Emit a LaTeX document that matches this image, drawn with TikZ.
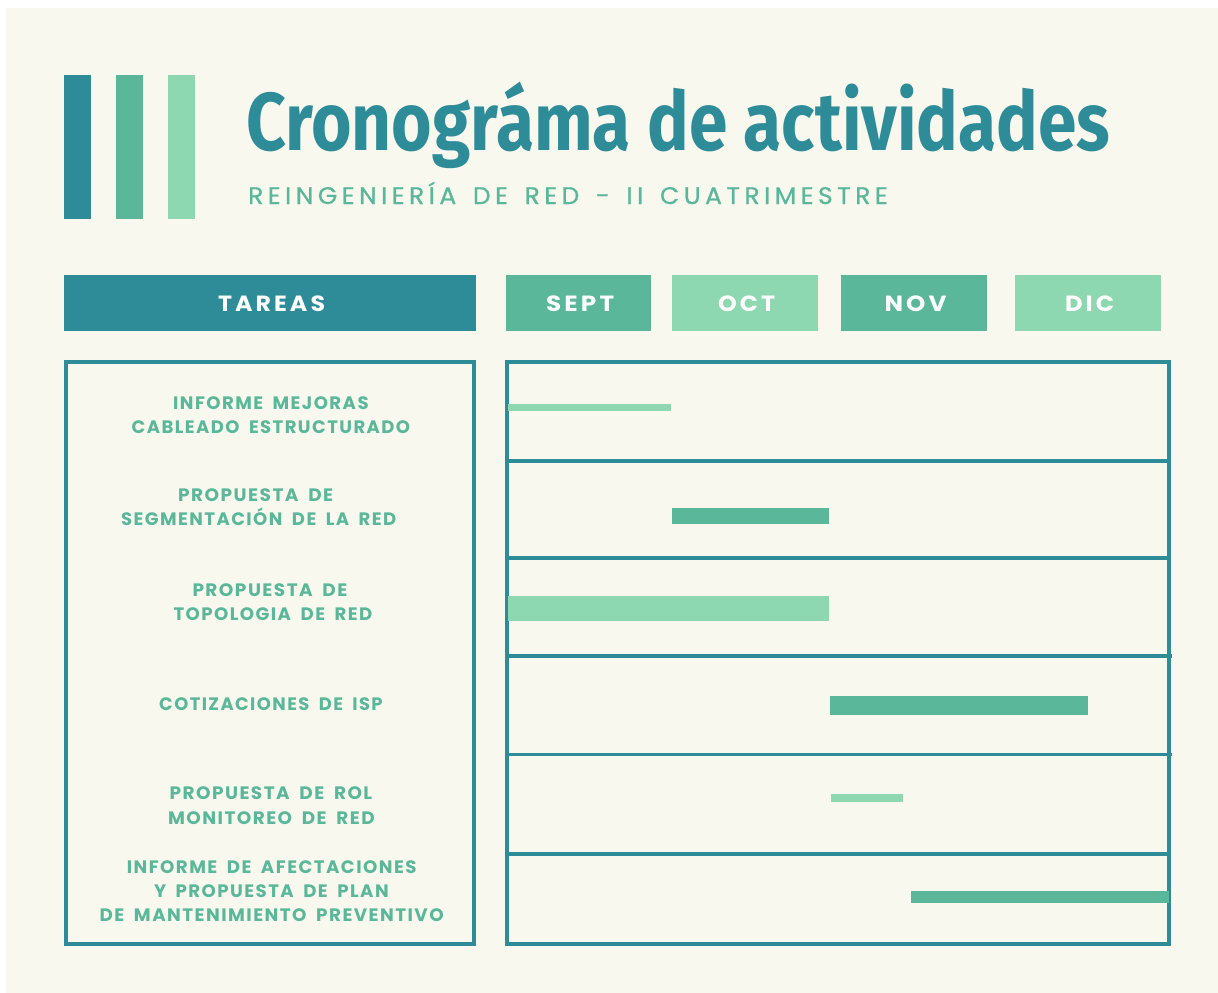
\documentclass[tikz,border=0pt]{standalone}
\usepackage{fontspec}
\usepackage{graphicx}
\setmainfont{Poppins}
\newfontfamily\titlefont{Fira Sans}
\newfontfamily\subfont[LetterSpace=18,WordSpace=1.5,FakeBold=0.8]{Poppins}
\newfontfamily\hdrfont[LetterSpace=13]{Poppins}
\newfontfamily\labfont[LetterSpace=8,WordSpace=1.8]{Poppins}
\definecolor{cteal}{HTML}{2E8C99}
\definecolor{cmid}{HTML}{5BB79A}
\definecolor{clight}{HTML}{8DD8B1}
\definecolor{cbg}{HTML}{F8F8EE}
\def\lsk{0em}
\newcommand\fitw[2]{\resizebox{#1pt}{\height}{#2\kern-\lsk}}
\begin{document}
\begin{tikzpicture}[x=1pt,y=-1pt,
  hdrbox/.style={rectangle, inner sep=0pt, minimum height=56pt, text=white,
    font=\hdrfont\bfseries\fontsize{22}{22}\selectfont\def\lsk{0.13em},
    text height=16pt, text depth=0pt},
  lab/.style={anchor=base west, inner sep=0pt, text=cmid,
    font=\labfont\bfseries\fontsize{18}{18}\selectfont\def\lsk{0.08em}},
  frame/.style={draw=cteal, line width=3.5pt},
  sep/.style={draw=cteal, line width=3.5pt},
  barL/.style={fill=clight},
  barM/.style={fill=cmid}]
% background
\fill[white] (0,0) rectangle (1218,993);
\fill[cbg] (6,8) rectangle (1218,993);
% decorative bars
\fill[cteal] (64,75) rectangle (91,219);
\fill[cmid] (116,75) rectangle (143,219);
\fill[clight] (168,75) rectangle (195,219);
% title
\node[anchor=base west, inner sep=0pt, text=cteal,
  font=\titlefont\bfseries\fontsize{82}{82}\selectfont] (title) at (246,150)
  {\fitw{864}{Cronográma de actividades}};
\node[anchor=base west, inner sep=0pt, text=cmid,
  font=\subfont\fontsize{24}{24}\selectfont\def\lsk{0.18em}] (subtitle) at (248,204)
  {\fitw{635}{REINGENIERÍA DE RED - II CUATRIMESTRE}};
% header boxes
\node[hdrbox, fill=cteal, minimum width=412pt] (tareas) at (270,303) {\fitw{104}{TAREAS}};
\node[hdrbox, fill=cmid, minimum width=145pt] (sept) at (578.5,303) {\fitw{65}{SEPT}};
\node[hdrbox, fill=clight, minimum width=146pt] (oct) at (745,303) {\fitw{54}{OCT}};
\node[hdrbox, fill=cmid, minimum width=146pt] (nov) at (914,303) {\fitw{59}{NOV}};
\node[hdrbox, fill=clight, minimum width=146pt] (dic) at (1088,303) {\fitw{46}{DIC}};
% frames
\draw[frame] (66,362) rectangle (474,944);
\draw[frame] (507,362) rectangle (1169,944);
\draw[sep] (507,461) -- (1169,461);
\draw[sep] (507,558) -- (1169,558);
\draw[sep] (507,656) -- (1172,656);
\draw[sep] (507,754.5) -- (1172,754.5);
\draw[sep] (507,854) -- (1169,854);
% gantt bars
\fill[barL] (508,404.3) rectangle (670.7,411.3);
\fill[barM] (671.7,508) rectangle (829.3,523.7);
\fill[barL] (508,596.3) rectangle (829.3,621);
\fill[barM] (829.7,695.7) rectangle (1087.7,715.3);
\fill[barL] (830.6,794) rectangle (903,802.3);
\fill[barM] (910.6,891) rectangle (1169.4,903.3);
% task labels
\node[lab] (l1a) at (173,409) {\fitw{194}{INFORME MEJORAS}};
\node[lab] (l1b) at (131.5,433) {\fitw{277}{CABLEADO ESTRUCTURADO}};
\node[lab] (l2a) at (178,501.5) {\fitw{153.5}{PROPUESTA DE}};
\node[lab] (l2b) at (121,525) {\fitw{273.5}{SEGMENTACIÓN DE LA RED}};
\node[lab] (l3a) at (192.3,596.7) {\fitw{153.4}{PROPUESTA DE}};
\node[lab] (l3b) at (173.3,620) {\fitw{197.4}{TOPOLOGIA DE RED}};
\node[lab] (l4a) at (159,710.7) {\fitw{222}{COTIZACIONES DE ISP}};
\node[lab] (l5a) at (169.4,799) {\fitw{201.2}{PROPUESTA DE ROL}};
\node[lab] (l5b) at (167.8,824) {\fitw{205.2}{MONITOREO DE RED}};
\node[lab] (l6a) at (126.6,873) {\fitw{288.3}{INFORME DE AFECTACIONES}};
\node[lab] (l6b) at (153.8,897) {\fitw{233.2}{Y PROPUESTA DE PLAN}};
\node[lab] (l6c) at (99.5,921) {\fitw{342.5}{DE MANTENIMIENTO PREVENTIVO}};
\end{tikzpicture}
\end{document}
